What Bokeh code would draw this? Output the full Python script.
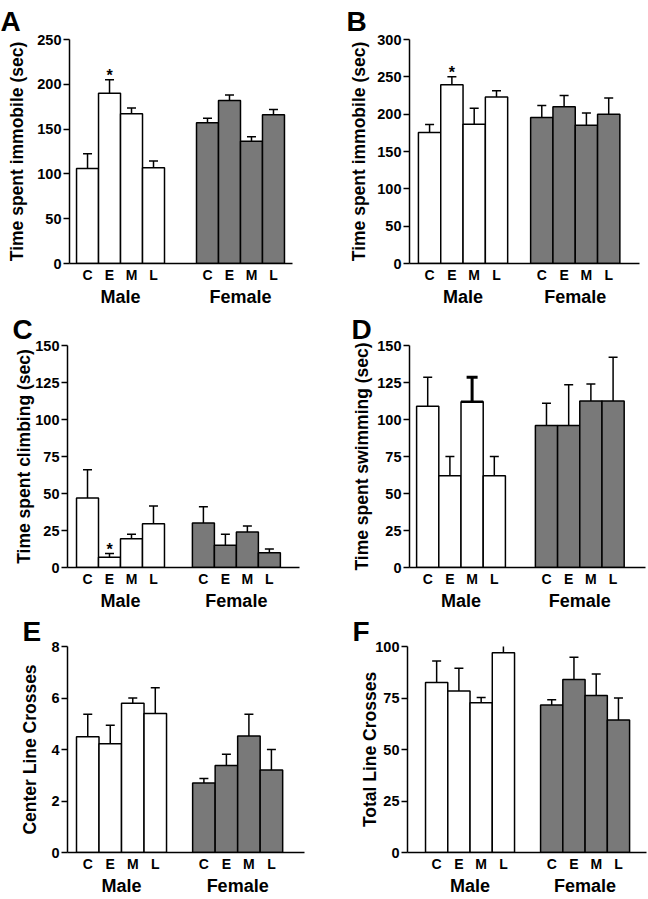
from bokeh.plotting import figure
from bokeh.models import (Range1d, FixedTicker, LinearAxis, Whisker, TeeHead,
                          ColumnDataSource)
from bokeh.layouts import column, row
from bokeh.embed import file_html
from bokeh.resources import INLINE
from bokeh.core.properties import value

# ---------------- data ----------------
conditions = ["C", "E", "M", "L"]
sexes = ["Male", "Female"]

immobile_a_male = [106, 190, 167, 107]
immobile_a_male_sem = [16.5, 15, 6.5, 7.5]
immobile_a_female = [157, 182, 136.5, 166]
immobile_a_female_sem = [5, 6, 5, 6]
immobile_a_sig = [False, True, False, False]

immobile_b_male = [175.5, 239.5, 186.5, 223]
immobile_b_male_sem = [10.5, 10.5, 21.5, 8.5]
immobile_b_female = [195.5, 210, 185, 200]
immobile_b_female_sem = [16, 15, 16.5, 21.5]
immobile_b_sig = [False, True, False, False]

climbing_male = [47, 7, 19.5, 29.5]
climbing_male_sem = [19, 2.5, 3, 12]
climbing_female = [30, 15, 24, 10]
climbing_female_sem = [11, 7.5, 4, 2.5]
climbing_sig = [False, True, False, False]

swimming_male = [109, 62, 112, 62]
swimming_male_sem = [19.5, 13, 16.5, 13]
swimming_female = [96, 96, 112.5, 112.5]
swimming_female_sem = [15, 27.5, 11.5, 29.5]
swimming_sig = [False, False, False, False]

center_male = [4.5, 4.22, 5.8, 5.4]
center_male_sem = [0.87, 0.72, 0.2, 1.0]
center_female = [2.7, 3.38, 4.52, 3.2]
center_female_sem = [0.17, 0.44, 0.85, 0.8]
center_sig = [False, False, False, False]

total_male = [82.5, 78.4, 72.7, 97]
total_male_sem = [10.5, 11, 2.5, 6.5]
total_female = [71.6, 84, 76.2, 64.3]
total_female_sem = [2.6, 10.8, 10.5, 10.7]
total_sig = [False, False, False, False]

ticks_a = [0, 50, 100, 150, 200, 250]
ticks_b = [0, 50, 100, 150, 200, 250, 300]
ticks_c = [0, 25, 50, 75, 100, 125, 150]
ticks_d = [0, 25, 50, 75, 100, 125, 150]
ticks_e = [0, 2, 4, 6, 8]
ticks_f = [0, 25, 50, 75, 100]

FONT = "Liberation Sans"
GRAY = "#797979"


def panel(letter, ylabel, male, male_sem, female, female_sem, yticks, sig,
          fw, fh, bl, br, bt, bb, x0, x1, gap, lab_standoff,
          letter_dx, letter_standoff, bold_err=()):
    y0, y1 = yticks[0], yticks[-1]
    p = figure(frame_width=fw, frame_height=fh,
               x_range=Range1d(x0, x1), y_range=Range1d(y0, y1),
               output_backend="svg", toolbar_location=None,
               min_border_left=bl, min_border_right=br,
               min_border_top=bt, min_border_bottom=bb)
    p.outline_line_color = None
    p.grid.visible = False

    # panel letter as the figure title
    p.title.text = letter
    p.title.align = "left"
    p.title.offset = letter_dx
    p.title.standoff = letter_standoff
    p.title.text_font = FONT
    p.title.text_font_style = "bold"
    p.title.text_font_size = "28px"
    p.title.text_color = "black"

    centers = [i + 0.5 for i in range(4)] + [4 + gap + i + 0.5 for i in range(4)]
    vals = list(male) + list(female)
    sems = list(male_sem) + list(female_sem)
    fills = ["white"] * 4 + [GRAY] * 4
    src = ColumnDataSource(dict(x=centers, top=vals,
                                upper=[v + s for v, s in zip(vals, sems)],
                                fill=fills))
    p.vbar(x="x", top="top", bottom=0, width=1.0, source=src,
           fill_color="fill", line_color="black", line_width=1.5)

    normal = [i for i in range(8) if i not in bold_err]
    for idx, lw in ((normal, 1.5), (list(bold_err), 3)):
        if not idx:
            continue
        s = ColumnDataSource(dict(x=[centers[i] for i in idx],
                                  top=[vals[i] for i in idx],
                                  upper=[vals[i] + sems[i] for i in idx]))
        p.add_layout(Whisker(source=s, base="x", lower="top", upper="upper",
                             dimension="height", line_color="black", line_width=lw,
                             upper_head=TeeHead(size=9 + 2 * (lw > 2), line_color="black",
                                                line_width=lw),
                             lower_head=None, level="annotation"))
        if lw > 2:
            p.segment(x0=[centers[i] - 0.5 for i in idx], x1=[centers[i] + 0.5 for i in idx],
                      y0=[vals[i] for i in idx], y1=[vals[i] for i in idx],
                      line_color="black", line_width=2.5)

    sx = [c for c, s in zip(centers[:4], sig) if s]
    sy = [v + e for v, e, s in zip(male, male_sem, sig) if s]
    if sx:
        p.text(x=sx, y=sy, text=["*"] * len(sx), text_align="center",
               text_baseline="alphabetic", text_font=value(FONT),
               text_font_style="bold", text_font_size="16px", y_offset=-4,
               text_color="black")

    ya = p.yaxis[0]
    ya.ticker = FixedTicker(ticks=yticks, minor_ticks=[])
    ya.axis_label = ylabel
    ya.axis_label_text_font = FONT
    ya.axis_label_text_font_style = "bold"
    ya.axis_label_text_font_size = "17.5px"
    ya.axis_label_text_color = "black"
    ya.axis_label_standoff = lab_standoff
    ya.major_label_text_font = FONT
    ya.major_label_text_font_style = "bold"
    ya.major_label_text_font_size = "14.5px"
    ya.major_label_text_color = "black"
    ya.major_label_standoff = 2
    ya.major_tick_out = 6
    ya.major_tick_in = 0
    ya.major_tick_line_width = 1.5
    ya.axis_line_width = 1.5

    xa = p.xaxis[0]
    xa.ticker = FixedTicker(ticks=centers, minor_ticks=[])
    xa.major_label_overrides = {c: lab for c, lab in zip(centers, conditions * 2)}
    xa.major_tick_line_color = None
    xa.major_tick_out = 0
    xa.major_tick_in = 0
    xa.axis_line_width = 1.5
    xa.major_label_standoff = 3
    xa.major_label_text_font = FONT
    xa.major_label_text_font_style = "bold"
    xa.major_label_text_font_size = "14px"
    xa.major_label_text_color = "black"

    gcent = [2.0, 4 + gap + 2.0]
    ga = LinearAxis(ticker=FixedTicker(ticks=gcent, minor_ticks=[]),
                    major_label_overrides={c: s for c, s in zip(gcent, sexes)},
                    axis_line_color=None, major_tick_line_color=None,
                    major_tick_out=0, major_tick_in=0, major_label_standoff=1,
                    major_label_text_font=FONT, major_label_text_font_style="bold",
                    major_label_text_font_size="18px", major_label_text_color="black")
    p.add_layout(ga, "below")
    return p


pA = panel("A", "Time spent immobile (sec)", immobile_a_male, immobile_a_male_sem,
           immobile_a_female, immobile_a_female_sem, ticks_a, immobile_a_sig,
           223, 224, 69, 32, 39, 46, -0.32, 9.82, 1.455, 7, -69, 5)
pB = panel("B", "Time spent immobile (sec)", immobile_b_male, immobile_b_male_sem,
           immobile_b_female, immobile_b_female_sem, ticks_b, immobile_b_sig,
           230, 224, 85, 9, 39, 46, -0.40, 9.91, 1.03, 5, -63, 5)
pC = panel("C", "Time spent climbing (sec)", climbing_male, climbing_male_sem,
           climbing_female, climbing_female_sem, ticks_c, climbing_sig,
           232, 222, 67, 25, 36, 46, -0.41, 10.14, 1.27, -2, -55, 2)
pD = panel("D", "Time spent swimming (sec)", swimming_male, swimming_male_sem,
           swimming_female, swimming_female_sem, ticks_d, swimming_sig,
           236, 222, 85, 3, 36, 46, -0.32, 10.31, 1.35, 2, -58, 2, bold_err=(2,))
pE = panel("E", "Center Line Crosses", center_male, center_male_sem,
           center_female, center_female_sem, ticks_e, center_sig,
           237, 206, 67, 20, 33, 46, -0.40, 10.13, 1.16, 8, -45, 0)
pF = panel("F", "Total Line Crosses", total_male, total_male_sem,
           total_female, total_female_sem, ticks_f, total_sig,
           239, 206, 83, 2, 33, 46, -0.81, 9.93, 1.17, -8, -55, 0)

layout = column(row(pA, pB), row(pC, pD), row(pE, pF), spacing=0)

open("out.html", "w").write(file_html(layout, INLINE))
